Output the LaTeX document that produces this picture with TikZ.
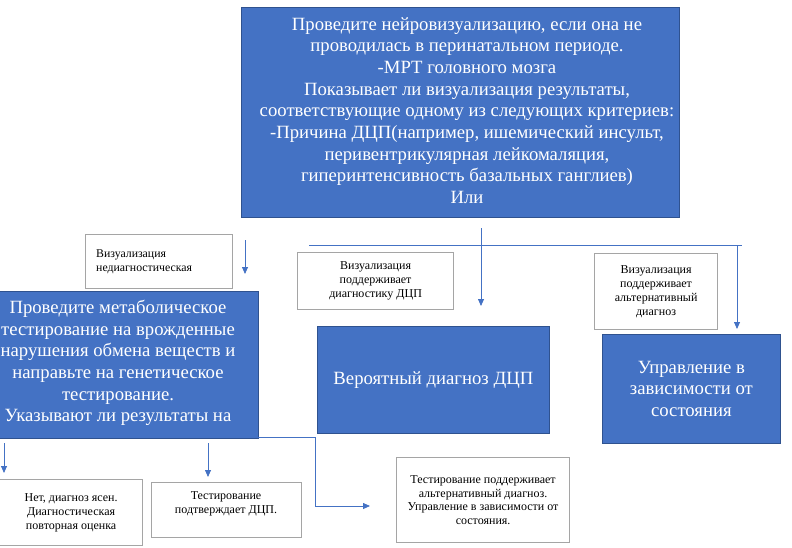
\documentclass[tikz,border=0pt]{standalone}
\usepackage{fontspec}
\setmainfont{Liberation Serif}
\usetikzlibrary{arrows.meta}
\definecolor{ofblue}{HTML}{4472C4}
\definecolor{ofborder}{HTML}{2F528F}
\definecolor{boxgray}{HTML}{A5A5A5}
\begin{document}
\begin{tikzpicture}[x=1pt,y=-1pt,
  bluebox/.style={draw=ofborder, fill=ofblue, line width=0.8pt, inner sep=0pt, text=white, align=center, font=\fontsize{18.7}{21.9}\selectfont},
  bigtxt/.style={text=white, align=center, font=\fontsize{18.7}{21.7}\selectfont, inner sep=0pt},
  greybox/.style={draw=boxgray, line width=1.2pt, fill=white, inner sep=0pt},
  smalltxt/.style={align=center, font=\fontsize{12}{13.8}\selectfont, inner sep=0pt},
  conn/.style={draw=ofblue, line width=0.8pt},
  arr/.style={conn, -{Triangle[width=6pt,length=7pt]}}]
\useasboundingbox (0,0) rectangle (792,548);
\clip (0,0) rectangle (792,548);
% top box
\node[bluebox, minimum width=438pt, minimum height=210pt, anchor=north west] (top) at (241,7) {};
\node[bigtxt] (toptext) at (467,110.5) {Проведите нейровизуализацию, если она не\\ проводилась в перинатальном периоде.\\ -МРТ головного мозга\\ Показывает ли визуализация результаты,\\ соответствующие одному из следующих критериев:\\ -Причина ДЦП(например, ишемический инсульт,\\ перивентрикулярная лейкомаляция,\\ гиперинтенсивность базальных ганглиев)\\ Или};
% left blue box
\node[bluebox, minimum width=280pt, minimum height=147pt, anchor=north west] (meta) at (-22,291) {};
\node[bigtxt] (metatext) at (118,363) {Проведите метаболическое\\ тестирование на врожденные\\ нарушения обмена веществ и\\ направьте на генетическое\\ тестирование.\\ Указывают ли результаты на};
% other blue boxes
\node[bluebox, minimum width=232pt, minimum height=107pt, anchor=north west] (prob) at (317,326) {Вероятный диагноз ДЦП};
\node[bluebox, minimum width=178pt, minimum height=109pt, anchor=north west] (manage) at (602,334) {Управление в\\ зависимости от\\ состояния};
% grey boxes
\node[greybox, minimum width=147pt, minimum height=54pt, anchor=north west] (vis1) at (85,234) {};
\node[smalltxt, align=left, anchor=west, font=\fontsize{11.8}{14}\selectfont] (vis1t) at (96,262) {Визуализация\\ недиагностическая};
\node[greybox, smalltxt, minimum width=156pt, minimum height=57pt, anchor=north west] (vis2) at (297,252) {Визуализация\\ поддерживает\\ диагностику ДЦП};
\node[greybox, smalltxt, minimum width=123pt, minimum height=76pt, anchor=north west] (vis3) at (594,253) {Визуализация\\ поддерживает\\ альтернативный\\ диагноз};
\node[greybox, smalltxt, minimum width=143pt, minimum height=66pt, anchor=north west] (no) at (-1,479) {Нет, диагноз ясен.\\ Диагностическая\\ повторная оценка};
\node[greybox, minimum width=150pt, minimum height=55pt, anchor=north west] (conf) at (151,482) {};
\node[smalltxt] (conft) at (226,504) {Тестирование\\ подтверждает ДЦП.};
\node[greybox, smalltxt, minimum width=173pt, minimum height=85pt, anchor=north west] (alt) at (396,457) {Тестирование поддерживает\\ альтернативный диагноз.\\ Управление в зависимости от\\ состояния.};
% connector coordinates
\coordinate (a1s) at (481,228);
\coordinate (a1e) at (481,306);
\coordinate (h1) at (309,245);
\coordinate (h2) at (742,245);
\coordinate (a2s) at (737,245);
\coordinate (a2e) at (737,329);
\coordinate (a3s) at (245,240);
\coordinate (a3e) at (245,274);
\coordinate (a4s) at (4,443);
\coordinate (a4e) at (4,473);
\coordinate (a5s) at (208,443);
\coordinate (a5e) at (208,477);
\coordinate (e1) at (258,437);
\coordinate (e2) at (315,437);
\coordinate (e3) at (315,506);
\coordinate (e4) at (370,506);
% connectors
\draw[arr] (a1s) -- (a1e);
\draw[conn] (h1) -- (h2);
\draw[arr] (a2s) -- (a2e);
\draw[arr] (a3s) -- (a3e);
\draw[arr] (a4s) -- (a4e);
\draw[arr] (a5s) -- (a5e);
\draw[arr] (e1) -- (e2) -- (e3) -- (e4);
\end{tikzpicture}
\end{document}
